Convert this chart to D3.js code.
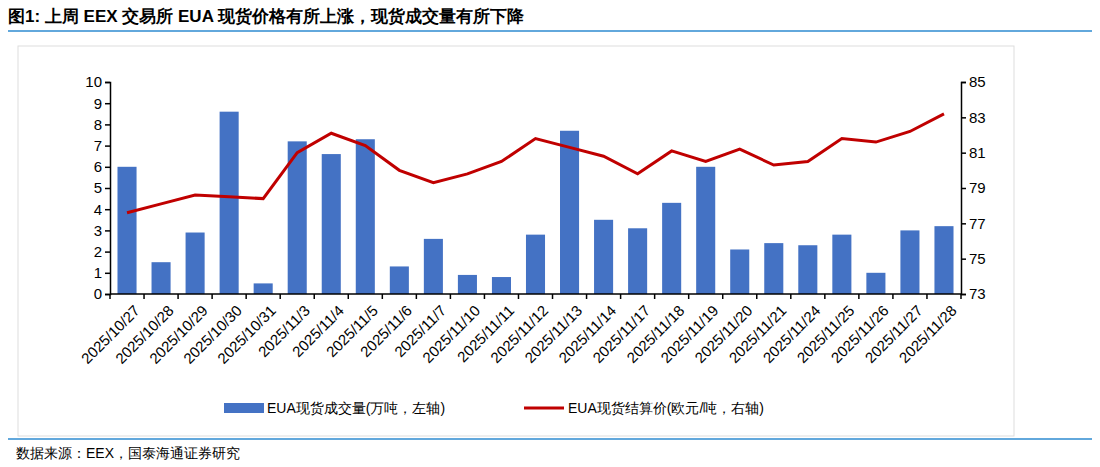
<!DOCTYPE html><html><head><meta charset="utf-8">
<script src="https://cdn.jsdelivr.net/npm/d3@7"></script>
<style>body{margin:0;background:#fff}text{font-family:"Liberation Sans",Arial,sans-serif}</style></head><body>
<svg id="c" width="1100" height="467"></svg>
<script>
const categories=["2025/10/27","2025/10/28","2025/10/29","2025/10/30","2025/10/31","2025/11/3","2025/11/4","2025/11/5","2025/11/6","2025/11/7","2025/11/10","2025/11/11","2025/11/12","2025/11/13","2025/11/14","2025/11/17","2025/11/18","2025/11/19","2025/11/20","2025/11/21","2025/11/24","2025/11/25","2025/11/26","2025/11/27","2025/11/28"];
const volume=[6.0,1.5,2.9,8.6,0.5,7.2,6.6,7.3,1.3,2.6,0.9,0.8,2.8,7.7,3.5,3.1,4.3,6.0,2.1,2.4,2.3,2.8,1.0,3.0,3.2];
const price=[77.6,78.1,78.6,78.5,78.4,81.0,82.1,81.4,80.0,79.3,79.8,80.5,81.8,81.3,80.8,79.8,81.1,80.5,81.2,80.3,80.5,81.8,81.6,82.2,83.2];
const leftTicks=[0,1,2,3,4,5,6,7,8,9,10];
const rightTicks=[73,75,77,79,81,83,85];
const svg=d3.select("#c");
const CJK='"Noto Sans CJK SC",sans-serif';
svg.append("text").attr("x",8).attr("y",22).attr("font-size",17).attr("font-weight","bold").attr("font-family",CJK).attr("fill","#000").text("图1:  上周 EEX 交易所 EUA 现货价格有所上涨，现货成交量有所下降");
svg.append("line").attr("x1",8).attr("x2",1092).attr("y1",31).attr("y2",31).attr("stroke","#2e8bd0").attr("stroke-width",1.5);
svg.append("rect").attr("x",18).attr("y",46).attr("width",996).attr("height",390).attr("fill","none").attr("stroke","#ddd");
svg.append("line").attr("x1",8).attr("x2",1092).attr("y1",439).attr("y2",439).attr("stroke","#2e8bd0").attr("stroke-width",1.5);
svg.append("text").attr("x",16).attr("y",458).attr("font-size",14).attr("font-family",CJK).text("数据来源：EEX，国泰海通证券研究");
const L=110,R=961,T=82,B=294;
const x=d3.scaleBand().domain(categories).range([L,R]).paddingInner(0.44).paddingOuter(0.22);
const yl=d3.scaleLinear().domain([0,10]).range([B,T]);
const yr=d3.scaleLinear().domain([73,85]).range([B,T]);
svg.append("g").selectAll("rect").data(volume).join("rect").attr("x",(d,i)=>x(categories[i])).attr("width",x.bandwidth()).attr("y",d=>yl(d)).attr("height",d=>B-yl(d)).attr("fill","#4472c4");
svg.append("path").datum(price).attr("fill","none").attr("stroke","#c00000").attr("stroke-width",3)
 .attr("d",d3.line().x((d,i)=>x(categories[i])+x.bandwidth()/2).y(d=>yr(d)));
const ga=svg.append("g").attr("transform",`translate(${L},0)`).call(d3.axisLeft(yl).tickValues(leftTicks).tickSize(5));
const gr=svg.append("g").attr("transform",`translate(${R},0)`).call(d3.axisRight(yr).tickValues(rightTicks).tickSize(5));
const gx=svg.append("g").attr("transform",`translate(0,${B})`).call(d3.axisBottom(x).tickSize(5));
const step=x.step();
gx.selectAll(".tick line").attr("transform",`translate(${step/2},0)`);
gx.append("line").attr("x1",L).attr("x2",L).attr("y1",0).attr("y2",5).attr("stroke","#000");
[ga,gr,gx].forEach(g=>{g.selectAll("path,line").attr("stroke","#000").attr("stroke-width",1.5);g.selectAll("text").attr("font-size",15).attr("fill","#000");});
gx.select(".domain").attr("d",`M${L},0H${R}`);
gx.selectAll(".tick text").attr("text-anchor","end").attr("dx",0).attr("dy",0).attr("transform","translate(8,12) rotate(-45)");
const lg=svg.append("g").attr("font-family",CJK).attr("font-size",14);
lg.append("rect").attr("x",224).attr("y",403).attr("width",40).attr("height",10).attr("fill","#4472c4");
lg.append("text").attr("x",267).attr("y",413).text("EUA现货成交量(万吨，左轴)");
lg.append("line").attr("x1",524).attr("x2",564).attr("y1",408).attr("y2",408).attr("stroke","#c00000").attr("stroke-width",3);
lg.append("text").attr("x",568).attr("y",413).text("EUA现货结算价(欧元/吨，右轴)");
</script></body></html>
